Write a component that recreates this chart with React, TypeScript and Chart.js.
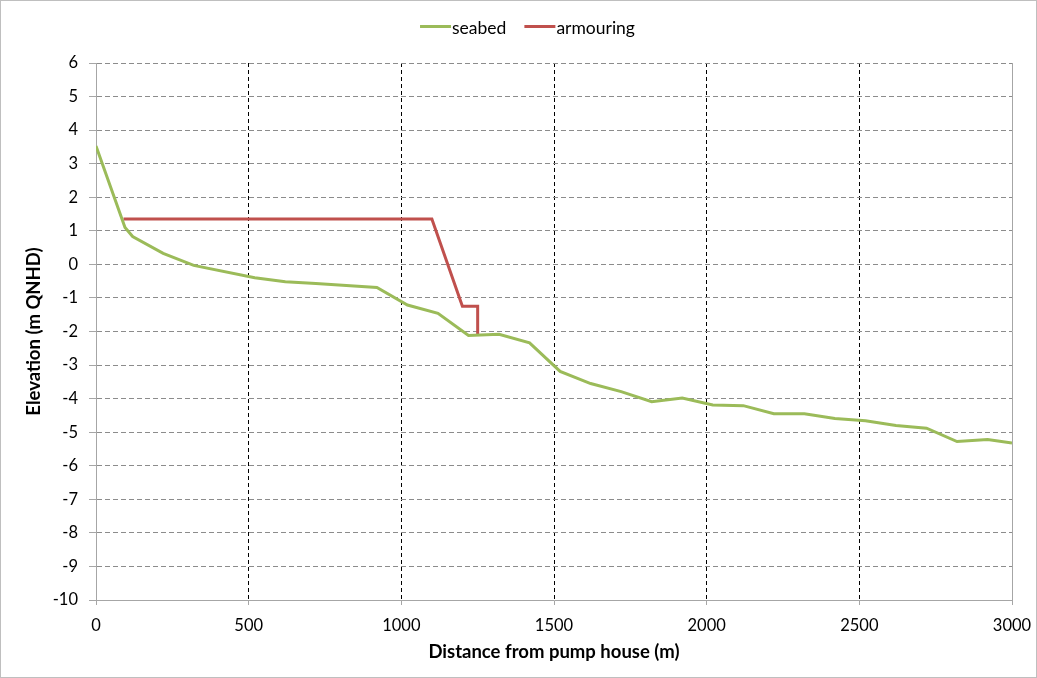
import React, { useEffect, useRef } from "react";
import { Chart, registerables } from "chart.js";

Chart.register(...registerables);

const seabedX = [0, 95, 120, 220, 320, 520, 620, 720, 820, 920, 1020, 1120, 1220, 1320, 1420, 1520, 1620, 1720, 1820, 1920, 2020, 2120, 2220, 2320, 2420, 2520, 2620, 2720, 2820, 2920, 3000];
const seabedY = [3.53, 1.1, 0.83, 0.33, -0.03, -0.4, -0.52, -0.57, -0.63, -0.69, -1.21, -1.46, -2.12, -2.08, -2.34, -3.19, -3.55, -3.79, -4.09, -3.98, -4.19, -4.21, -4.45, -4.45, -4.59, -4.66, -4.8, -4.88, -5.28, -5.22, -5.32];
const armourX = [90, 1100, 1200, 1250, 1250];
const armourY = [1.35, 1.35, -1.25, -1.25, -2.1];
const seriesNames = ["seabed", "armouring"];
const seriesColors = ["#9BBB59", "#C0504D"];
const xTitle = "Distance from pump house (m)";
const yTitle = "Elevation (m QNHD)";

const FONT = "Lato, 'Open Sans', sans-serif";
const TICK_SIZE = 16.5;
const TITLE_SIZE = 18.5;
const LEGEND_SIZE = 17.5;

export default function App() {
  const ref = useRef<HTMLCanvasElement | null>(null);
  useEffect(() => {
    if (!ref.current) return;
    const customLegend = {
      id: "customLegend",
      afterDraw(chart: any) {
        const ctx = chart.ctx;
        ctx.save();
        ctx.font = `${LEGEND_SIZE}px ${FONT}`;
        ctx.textBaseline = "middle";
        ctx.textAlign = "left";
        const lineLen = 31;
        const gapLT = 1;
        const gapItems = 18;
        const widths = chart.data.datasets.map((d: any) => ctx.measureText(d.label).width);
        let total = 0;
        widths.forEach((w: number, i: number) => {
          total += lineLen + gapLT + w + (i < widths.length - 1 ? gapItems : 0);
        });
        let x = chart.width / 2 + 9 - total / 2;
        const y = 27;
        chart.data.datasets.forEach((d: any, i: number) => {
          ctx.strokeStyle = d.borderColor;
          ctx.lineWidth = 3;
          ctx.beginPath();
          ctx.moveTo(x, y - 1.5);
          ctx.lineTo(x + lineLen, y - 1.5);
          ctx.stroke();
          x += lineLen + gapLT;
          ctx.fillStyle = "#000";
          ctx.fillText(d.label, x, y);
          x += widths[i] + gapItems;
        });
        ctx.restore();
      },
    };
    const chart = new Chart(ref.current, {
      type: "line",
      data: {
        datasets: [
          {
            label: seriesNames[0],
            data: seabedX.map((x, i) => ({ x, y: seabedY[i] })),
            borderColor: seriesColors[0],
            backgroundColor: seriesColors[0],
            borderWidth: 3,
            pointRadius: 0,
            tension: 0,
          },
          {
            label: seriesNames[1],
            data: armourX.map((x, i) => ({ x, y: armourY[i] })),
            borderColor: seriesColors[1],
            backgroundColor: seriesColors[1],
            borderWidth: 3,
            pointRadius: 0,
            tension: 0,
          },
        ],
      },
      plugins: [customLegend],
      options: {
        animation: false,
        responsive: false,
        devicePixelRatio: 1,
        layout: { padding: { left: 0, right: 24, top: 62, bottom: 0 } },
        plugins: {
          tooltip: { enabled: false },
          legend: { display: false },
        },
        scales: {
          x: {
            type: "linear",
            min: 0,
            max: 3000,
            afterFit: (s: any) => {
              s.height = 77;
              s.paddingLeft = 0;
              s.paddingRight = 0;
            },
            ticks: {
              stepSize: 500,
              color: "#000",
              padding: 11,
              maxRotation: 0,
              font: { family: FONT, size: TICK_SIZE },
              callback: (v: any) => String(v),
            },
            grid: {
              color: (c: any) =>
                c.tick && c.tick.value === 0
                  ? "rgba(0,0,0,0)"
                  : c.tick && c.tick.value === 3000
                  ? "#a6a6a6"
                  : "#000",
              lineWidth: 1,
              tickLength: 5,
              tickColor: "#a6a6a6",
              tickBorderDash: [],
            },
            border: {
              display: true,
              color: "#a6a6a6",
              width: 1,
              dash: (c: any) => (c.tick && c.tick.value === 3000 ? [] : [4, 3]),
            },
            title: {
              display: true,
              text: xTitle,
              color: "#000",
              font: { family: FONT, size: TITLE_SIZE, weight: "bold" },
              padding: { top: 0, bottom: 14 },
            },
          },
          y: {
            type: "linear",
            min: -10,
            max: 6,
            afterFit: (s: any) => {
              s.width = 95;
              s.paddingTop = 0;
              s.paddingBottom = 0;
            },
            ticks: {
              stepSize: 1,
              color: "#000",
              padding: 11,
              font: { family: FONT, size: TICK_SIZE },
            },
            grid: {
              color: (c: any) =>
                c.tick && c.tick.value === -10 ? "rgba(0,0,0,0)" : "#8c8c8c",
              lineWidth: 1,
              tickLength: 7,
              tickColor: "#a6a6a6",
              tickBorderDash: [],
            },
            border: {
              display: true,
              color: "#a6a6a6",
              width: 1,
              dash: [5, 3],
            },
            title: {
              display: true,
              text: yTitle,
              color: "#000",
              font: { family: FONT, size: TITLE_SIZE, weight: "bold" },
              padding: { top: 22, bottom: 0 },
            },
          },
        },
      } as any,
    });
    return () => chart.destroy();
  }, []);
  return (
    <div
      style={{
        position: "absolute",
        left: 0,
        top: 0,
        width: 1035,
        height: 676,
        border: "1px solid #bfbfbf",
        background: "#fff",
      }}
    >
      <canvas ref={ref} width={1035} height={676} style={{ display: "block" }} />
    </div>
  );
}
